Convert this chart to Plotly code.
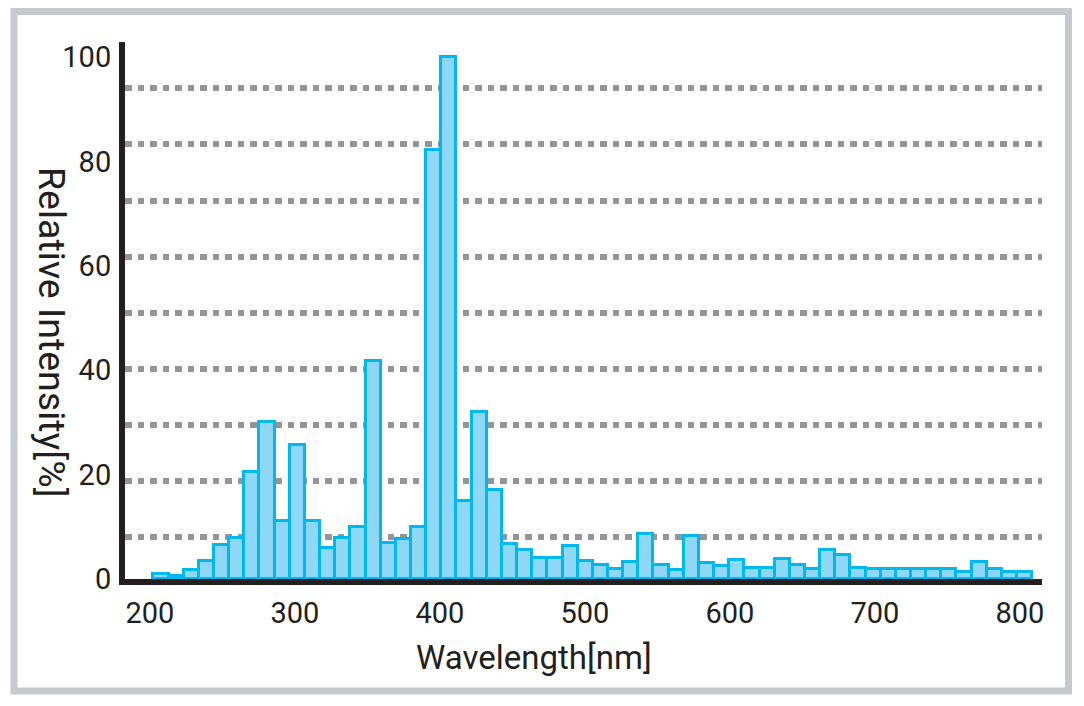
import plotly.graph_objects as go

# ---- data ----
intensity = [1.0, 0.5, 1.8, 3.4, 6.6, 7.9, 20.5, 30.0, 11.1, 25.7,
             11.1, 5.9, 7.8, 10.0, 41.8, 6.9, 7.7, 9.9, 82.2, 100.0,
             14.9, 32.0, 17.0, 6.8, 5.6, 4.1, 4.0, 6.3, 3.5, 2.6,
             2.0, 3.3, 8.6, 2.6, 1.8, 8.3, 3.1, 2.4, 3.7, 2.2,
             2.2, 3.9, 2.7, 1.9, 5.6, 4.6, 2.2, 1.9, 1.9, 1.9,
             1.9, 1.9, 1.9, 1.4, 3.2, 1.9, 1.3, 1.3]
first_bin_center = 207.6   # nm
bin_width = 10.45          # nm
x_ticks = [200, 300, 400, 500, 600, 700, 800]
y_ticks = [0, 20, 40, 60, 80, 100]
x_title = "Wavelength[nm]"
y_title = "Relative Intensity[%]"

# ---- style ----
W, H = 1084, 706
ML, MR, MT, MB = 125, 42, 42, 127
PW, PH = W - ML - MR, H - MT - MB
INK = "#231f20"
FONT = "Roboto"

fig = go.Figure()
fig.add_trace(go.Bar(
    x0=first_bin_center, dx=bin_width, y=intensity, width=bin_width,
    marker=dict(color="#8fd7f6", line=dict(color="#00b8f0", width=3)),
    showlegend=False, hoverinfo="skip",
))
# invisible trace that carries the decorative dotted grid axis
fig.add_trace(go.Scatter(x=[None], y=[None], yaxis="y2", showlegend=False,
                         hoverinfo="skip"))

def px_x(p):
    return (p - ML) / PW

def px_y(p):
    return (H - MB - p) / PH

fig.update_layout(
    width=W, height=H,
    margin=dict(l=ML, r=MR, t=MT, b=MB, pad=0),
    paper_bgcolor="white", plot_bgcolor="white",
    bargap=0,
    font=dict(family=FONT, color=INK),
    xaxis=dict(
        range=[182.8, 815.2], tickvals=x_ticks, ticks="",
        showline=True, linewidth=6, linecolor=INK,
        showgrid=False, zeroline=False,
        tickfont=dict(family=FONT, size=29, color=INK),
        ticklabelstandoff=3,
    ),
    yaxis=dict(
        range=[0, 102.87], tickvals=y_ticks, ticks="",
        showline=True, linewidth=6, linecolor=INK,
        showgrid=False, zeroline=False,
        tickfont=dict(family=FONT, size=29, color=INK),
        ticklabelstandoff=2,
    ),
    yaxis2=dict(
        overlaying="y", anchor="x", range=[0.257, 9.825],
        tickvals=[1, 2, 3, 4, 5, 6, 7, 8, 9], showticklabels=False, ticks="",
        showgrid=True, gridcolor="#939598", gridwidth=6, griddash="6.5px,6px",
        showline=False, zeroline=False,
    ),
    annotations=[
        dict(text=x_title, xref="paper", yref="paper",
             x=px_x(534), y=px_y(657), xanchor="center", yanchor="middle",
             showarrow=False, font=dict(family=FONT, size=33, color=INK)),
        dict(text=y_title, xref="paper", yref="paper", textangle=90,
             x=px_x(52), y=px_y(332), xanchor="center", yanchor="middle",
             showarrow=False, font=dict(family=FONT, size=37.5, color=INK)),
    ],
    shapes=[
        dict(type="rect", xref="paper", yref="paper",
             x0=px_x(14), x1=px_x(1068.5), y0=px_y(691), y1=px_y(11.5),
             line=dict(color="#c6c9ce", width=7), layer="below"),
    ],
)

fig.write_html("out.html")
